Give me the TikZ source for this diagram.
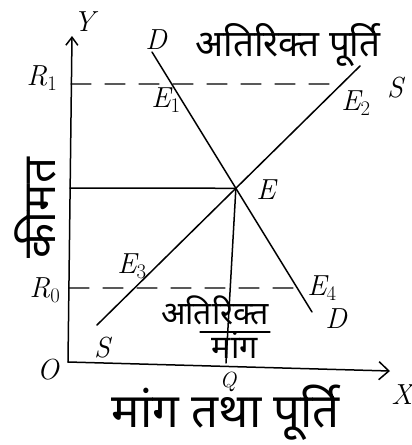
\documentclass[tikz,border=0pt]{standalone}
\usepackage{fontspec}
\usepackage{graphicx}
\newfontfamily\deva[Script=Devanagari]{Noto Sans}
\usetikzlibrary{arrows.meta}
\begin{document}
\begin{tikzpicture}[x=1pt,y=-1pt,line width=1.5pt,line cap=round,
  lbl/.style={font=\fontsize{29}{29}\selectfont\itshape,inner sep=0pt},
  dv/.style={font=\deva\fontsize{26}{26}\selectfont,inner sep=0pt},
  guide/.style={dashed,dash pattern=on 20pt off 14pt,line width=1.3pt}]
\useasboundingbox (0,0) rectangle (412,445);
% axes
\coordinate (O) at (68,362);
\coordinate (Ytop) at (72,36);
\coordinate (Xend) at (390,371);
\draw[-{Straight Barb[length=8pt,width=12pt]}] (O) -- (Ytop);
\draw[-{Straight Barb[length=10pt,width=18pt]}] (O) -- (Xend);
% curves
\coordinate (Dtop) at (152,52);
\coordinate (Dbot) at (312,312);
\coordinate (Sbot) at (97,325);
\coordinate (Stop) at (360,66);
\draw (Dtop) -- (Dbot);
\draw (Sbot) -- (Stop);
\coordinate (E) at (intersection of Dtop--Dbot and Sbot--Stop);
% price levels
\coordinate (R1) at (71,84);
\coordinate (R1f) at (400,84);
\coordinate (P) at (70,188);
\coordinate (R0) at (69,288);
\coordinate (R0f) at (400,288);
\coordinate (E1) at (intersection of Dtop--Dbot and R1--R1f);
\coordinate (E2) at (intersection of Sbot--Stop and R1--R1f);
\coordinate (E3) at (intersection of Sbot--Stop and R0--R0f);
\coordinate (E4) at (intersection of Dtop--Dbot and R0--R0f);
\coordinate (Q) at (226,363);
\draw[guide] (R1) -- (E2);
\draw[guide] (R0) -- (E4);
\draw (P) -- (E);
\draw (E) -- (Q);
% labels
\node[lbl] (ly) at (84,22) {Y};
\node[lbl] (lx) at (402,395) {X};
\node[lbl] (lo) at (48,370) {O};
\node[lbl] (lr1) at (42,78) {R$_1$};
\node[lbl] (lr0) at (45,290) {R$_0$};
\node[lbl] (ld1) at (156,40) {D};
\node[lbl] (ld2) at (336,319) {D};
\node[lbl] (ls1) at (395,88) {S};
\node[lbl] (ls2) at (102,348) {S};
\node[lbl] (le) at (266,190) {E};
\node[lbl] (le1) at (166,100) {E$_1$};
\node[lbl] (le2) at (356,103) {E$_2$};
\node[lbl] (le3) at (132,266) {E$_3$};
\node[lbl] (le4) at (322,288) {E$_4$};
\node[lbl,font=\fontsize{22}{22}\selectfont\itshape] (lq) at (228,382) {Q};
% Devanagari texts
\node[dv] (ts) at (288,45) {\resizebox{185pt}{!}{अतिरिक्त पूर्ति}};
\node[dv] (td1) at (215,310) {\resizebox{108pt}{!}{अतिरिक्त}};
\draw[line width=1.3pt] (200,332) -- (270,332);
\node[dv] (td2) at (235,345) {\resizebox{46pt}{!}{मांग}};
\node[dv] (tx) at (226,413) {\resizebox{228pt}{!}{मांग तथा पूर्ति}};
\node[dv,rotate=90] (ty) at (35,208) {\resizebox{100pt}{!}{कीमत}};
\end{tikzpicture}
\end{document}
